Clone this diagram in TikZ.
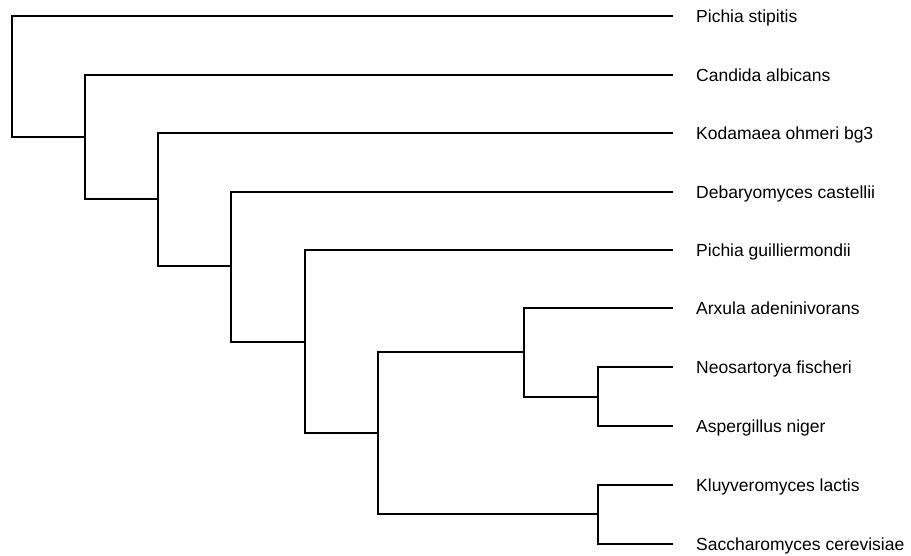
\documentclass[tikz,border=0pt]{standalone}
\usepackage{fontspec}
\setmainfont{Liberation Sans}
\usepackage{tikz}

\begin{document}
\begin{tikzpicture}[x=1pt,y=-1pt,
        branch/.style={black,line width=1.8pt,line cap=rect},
        taxon/.style={anchor=west,inner xsep=24pt,inner ysep=0pt,
            text height=13.5pt,text depth=0pt,font=\fontsize{17.5}{20}\selectfont}]
            \useasboundingbox (0,3) rectangle (911,558);
            % leaves
            \node[taxon] (pst) at (672,19) {Pichia stipitis};
            \node[taxon] (cal) at (672,78) {Candida albicans};
            \node[taxon] (koh) at (672,136) {Kodamaea ohmeri bg3};
            \node[taxon] (dca) at (672,195) {Debaryomyces castellii};
            \node[taxon] (pgu) at (672,253) {Pichia guilliermondii};
            \node[taxon] (aad) at (672,311) {Arxula adeninivorans};
            \node[taxon] (nfi) at (672,370) {Neosartorya fischeri};
            \node[taxon] (ani) at (672,429) {Aspergillus niger};
            \node[taxon] (kla) at (672,488) {Kluyveromyces lactis};
            \node[taxon] (sce) at (672,547) {Saccharomyces cerevisiae};
            % internal nodes
            \coordinate (root) at (12,80);
            \coordinate (n2) at (85,140);
            \coordinate (n3) at (158,202);
            \coordinate (n4) at (231,269);
            \coordinate (n5) at (305,345);
            \coordinate (n6) at (378,436);
            \coordinate (n7) at (524,355);
            \coordinate (n8) at (598,400);
            \coordinate (n9) at (598,517);
            % branches
            \draw[branch] (root) |- (pst.west);
            \draw[branch] (root) |- (n2);
            \draw[branch] (n2) |- (cal.west);
            \draw[branch] (n2) |- (n3);
            \draw[branch] (n3) |- (koh.west);
            \draw[branch] (n3) |- (n4);
            \draw[branch] (n4) |- (dca.west);
            \draw[branch] (n4) |- (n5);
            \draw[branch] (n5) |- (pgu.west);
            \draw[branch] (n5) |- (n6);
            \draw[branch] (n6) |- (n7);
            \draw[branch] (n6) |- (n9);
            \draw[branch] (n7) |- (aad.west);
            \draw[branch] (n7) |- (n8);
            \draw[branch] (n8) |- (nfi.west);
            \draw[branch] (n8) |- (ani.west);
            \draw[branch] (n9) |- (kla.west);
            \draw[branch] (n9) |- (sce.west);
\end{tikzpicture}
\end{document}
